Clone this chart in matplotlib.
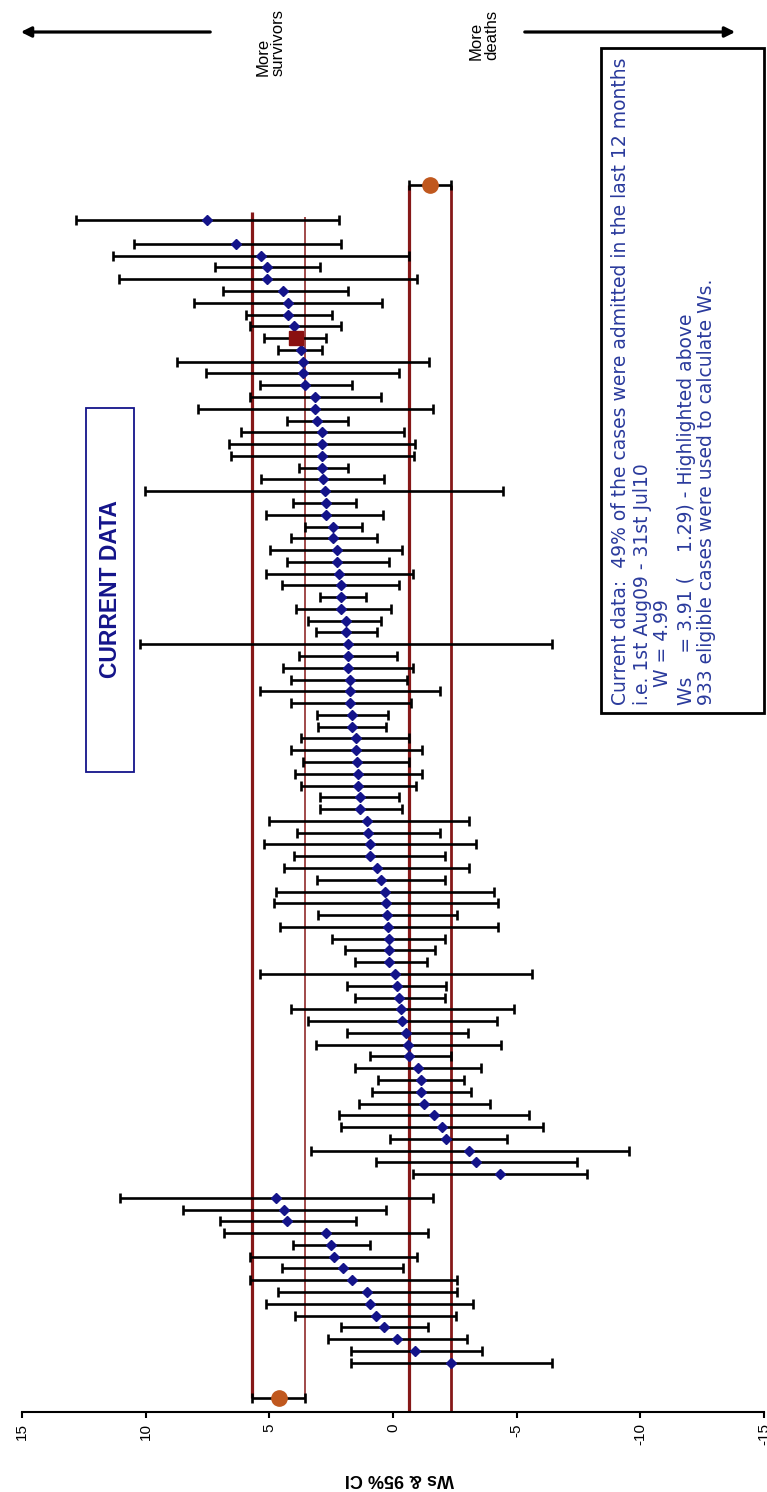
import numpy as np
import matplotlib.pyplot as plt
from matplotlib.patches import Rectangle

W, H = 767, 1492

# current data: Ws and 95% CI (hi = left cap, lo = right cap); nan = missing unit
cur_ws = [7.51, np.nan, 6.33, 5.33, 5.08, 5.08, 4.44, 4.24, 4.24, 4.00, 3.91,
          3.73, 3.65, 3.65, 3.55, 3.16, 3.16, 3.09, 2.89, 2.89, 2.86, 2.86, 2.81, 2.76, 2.72,
          2.72, 2.42, 2.42, 2.25, 2.25, 2.17, 2.12, 2.09, 2.09, 1.92, 1.89, 1.83, 1.80, 1.80,
          1.75, 1.72, 1.72, 1.67, 1.67, 1.50, 1.50, 1.45, 1.42, 1.42, 1.33, 1.33, 1.05, 1.00,
          0.95, 0.91, 0.66, 0.49, 0.32, 0.27, 0.24, 0.21, 0.16, 0.16, 0.16, -0.10, -0.18, -0.26,
          -0.31, -0.35, -0.52, -0.60, -0.65, -1.02, -1.14, -1.14, -1.24, -1.64, -1.98, -2.16,
          -3.08, -3.34, -4.34]
cur_hi = [12.83, np.nan, 10.48, 11.32, 7.21, 11.07, 6.87, 8.05, 5.95, 5.78, 5.23,
          4.66, 8.72, 7.58, 5.39, 5.78, 7.88, 4.30, 6.15, 6.62, 6.54, 3.80, 5.33, 10.01, 4.05,
          5.14, 3.55, 4.14, 4.97, 4.30, 5.14, 4.47, 2.96, 3.93, 3.43, 3.13, 10.23, 3.80, 4.44,
          4.14, 5.39, 4.14, 3.09, 3.04, 3.71, 4.14, 3.63, 3.97, 3.71, 2.96, 2.96, 5.02, 3.88,
          5.23, 4.02, 4.39, 3.09, 4.72, 4.81, 3.04, 4.56, 2.46, 1.95, 1.53, 5.39, 1.87, 1.53,
          4.14, 3.43, 1.87, 3.13, 0.94, 1.53, 0.61, 0.86, 1.36, 2.20, 2.12, 0.12,
          3.30, 0.69, -0.82]
cur_lo = [2.17, np.nan, 2.09, -0.65, 2.96, -0.99, 1.83, 0.44, 2.46, 2.12, 2.71,
          2.88, -1.44, -0.26, 1.67, 0.49, -1.61, 1.83, -0.43, -0.90, -0.85, 1.83, 0.36, -4.43, 1.50,
          0.41, 1.25, 0.63, -0.35, 0.16, -0.82, -0.26, 1.08, 0.07, 0.49, 0.66, -6.44, -0.18, -0.82,
          -0.57, -1.91, -0.73, 0.19, 0.27, -0.65, -1.19, -0.65, -1.19, -0.94, -0.26, -0.35, -3.08, -1.91,
          -3.34, -2.11, -3.08, -2.11, -4.09, -4.26, -2.58, -4.26, -2.11, -1.69, -1.36, -5.60, -2.16, -2.11,
          -4.88, -4.21, -3.03, -4.38, -2.36, -3.54, -2.87, -3.17, -3.92, -5.50, -6.06, -4.60,
          -9.53, -7.45, -7.85]
highlight_row = 10  # Ws = 3.91

# previous data
prev_ws = [4.74, 4.39, 4.30, 2.72, 2.49, 2.39, 2.04, 1.67, 1.05, 0.95, 0.69, 0.36, -0.15, -0.90, -2.36]
prev_hi = [11.02, 8.50, 6.99, 6.82, 4.05, 5.78, 4.47, 5.78, 4.64, 5.14, 3.97, 2.12, 2.62, 1.70, 1.70]
prev_lo = [-1.61, 0.27, 1.50, -1.41, 0.94, -0.99, -0.40, -2.58, -2.58, -3.25, -2.53, -1.41, -3.00, -3.59, -6.44]

# overall estimates (Ws, hi, lo)
cur_overall = [-1.49, -0.65, -2.33]
prev_overall = [4.60, 5.70, 3.55]

xticks = [15, 10, 5, 0, -5, -10, -15]

box_lines = ["Current data:  49% of the cases were admitted in the last 12 months",
             "i.e. 1st Aug09 - 31st Jul10",
             "   W = 4.99",
             "Ws    = 3.91 (    1.29) - Highlighted above",
             "933 eligible cases were used to calculate Ws."]

plt.rcParams['font.family'] = ['Liberation Sans', 'DejaVu Sans']

NAVY = '#14148a'
DRED = '#861818'
ORANGE = '#c0581e'

fig = plt.figure(figsize=(W / 100, H / 100), dpi=100)

def fx(px):
    return px / W

def fy(py):
    return 1 - py / H

ax = fig.add_axes([fx(22), fy(1412), (764 - 22) / W, (1412 - 150) / H])
ax.set_xlim(15, -15)
ax.set_ylim(104.19, -2.97)

cur_ws = np.array(cur_ws)
cur_hi = np.array(cur_hi)
cur_lo = np.array(cur_lo)
prev_ws = np.array(prev_ws)
prev_hi = np.array(prev_hi)
prev_lo = np.array(prev_lo)

cur_pos = 3 + np.arange(len(cur_ws))
prev_pos = cur_pos[-1] + 2 + np.arange(len(prev_ws))
cur_ov_pos = 0
prev_ov_pos = prev_pos[-1] + 3

# reference bands from the overall CIs
ax.vlines(prev_overall[1], prev_ov_pos, 2.3, color=DRED, lw=2.3, zorder=1)
ax.vlines(prev_overall[2], prev_ov_pos, 2.7, color=DRED, lw=1.1, zorder=1)
ax.vlines(cur_overall[1], cur_ov_pos, 104.19, color=DRED, lw=2.3, zorder=1)
ax.vlines(cur_overall[2], cur_ov_pos, 104.19, color=DRED, lw=2.0, zorder=1)

eb = dict(fmt='none', ecolor='black', elinewidth=1.9, capsize=3.6, capthick=1.9, zorder=2)
ax.errorbar(cur_ws, cur_pos, xerr=[cur_ws - cur_lo, cur_hi - cur_ws], **eb)
ax.errorbar(prev_ws, prev_pos, xerr=[prev_ws - prev_lo, prev_hi - prev_ws], **eb)
for (w, hi, lo), p in [(cur_overall, cur_ov_pos), (prev_overall, prev_ov_pos)]:
    ax.errorbar([w], [p], xerr=[[w - lo], [hi - w]], **eb)

mask = np.arange(len(cur_ws)) != highlight_row
ax.plot(cur_ws[mask], cur_pos[mask], 'D', color=NAVY, ms=4.6, zorder=3)
ax.plot(prev_ws, prev_pos, 'D', color=NAVY, ms=4.6, zorder=3)
ax.plot(cur_ws[highlight_row], cur_pos[highlight_row], 's', color='#8a1010', ms=10, zorder=4)
ax.plot([cur_overall[0], prev_overall[0]], [cur_ov_pos, prev_ov_pos], 'o',
        color=ORANGE, ms=11, zorder=4)

for s in ['left', 'top', 'right']:
    ax.spines[s].set_visible(False)
ax.spines['bottom'].set_linewidth(1.5)
ax.set_yticks([])
ax.set_xticks(xticks)
ax.set_xticklabels([str(t) for t in xticks], rotation=90, fontsize=11)
ax.tick_params(axis='x', direction='out', length=4, width=1.5, pad=4)

fig.text(fx(399), fy(1479), "Ws & 95% CI", rotation=180, ha='center', va='center',
         fontweight='bold', fontsize=13)

# current data label box
fig.patches.append(Rectangle((fx(86), fy(772)), fx(134) - fx(86), fy(408) - fy(772),
                             transform=fig.transFigure, fill=False, ec=NAVY, lw=1.3))
fig.text(fx(111), fy(589), "CURRENT DATA", rotation=90, ha='center', va='center',
         color=NAVY, fontweight='bold', fontsize=16.5)

# direction arrows
ax.annotate('', xy=(18, H - 32), xytext=(213, H - 32), xycoords='figure pixels',
            textcoords='figure pixels',
            arrowprops=dict(arrowstyle='-|>', lw=2.3, color='black', mutation_scale=15))
ax.annotate('', xy=(738, H - 32), xytext=(522, H - 32), xycoords='figure pixels',
            textcoords='figure pixels',
            arrowprops=dict(arrowstyle='-|>', lw=2.3, color='black', mutation_scale=15))
fig.text(fx(271), fy(76), "More\nsurvivors", rotation=90, ha='center', va='bottom',
         multialignment='left', fontsize=12, linespacing=1.0)
fig.text(fx(484), fy(60), "More\ndeaths", rotation=90, ha='center', va='bottom',
         multialignment='left', fontsize=12, linespacing=1.0)

# info box
fig.patches.append(Rectangle((fx(601), fy(713)), fx(764) - fx(601), fy(48) - fy(713),
                             transform=fig.transFigure, fill=False, ec='black', lw=2.0))
for line, lx in zip(box_lines, [621, 642, 663, 686, 707]):
    fig.text(fx(lx), fy(705), line, rotation=90, ha='center', va='bottom',
             color='#2a3a9c', fontsize=13.5, family='DejaVu Sans')

fig.savefig('out.png', dpi=100)
